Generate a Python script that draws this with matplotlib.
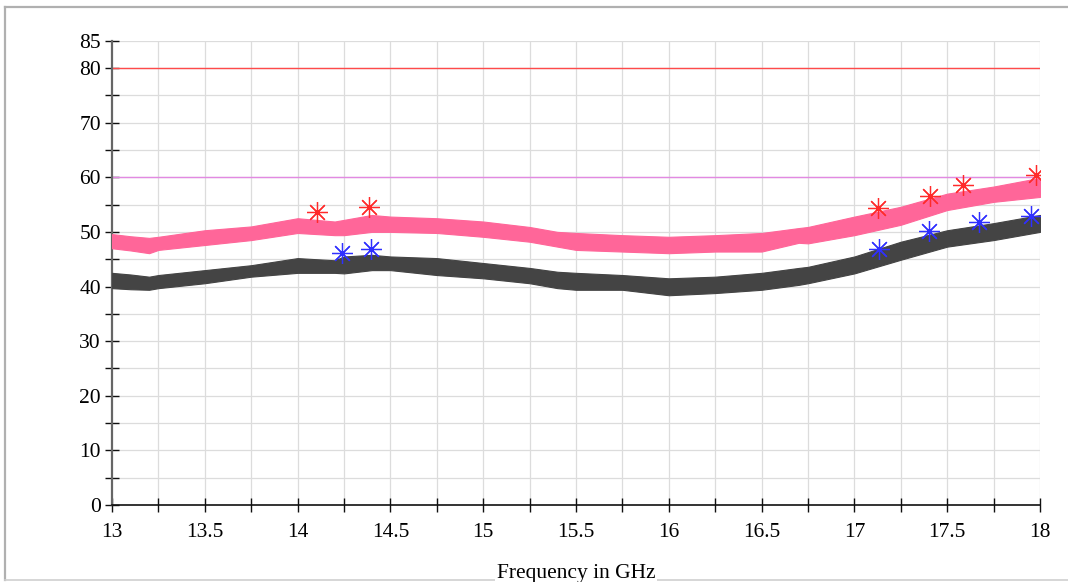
import matplotlib
matplotlib.use("Agg")
import matplotlib.pyplot as plt
from matplotlib.lines import Line2D
from matplotlib.ticker import MultipleLocator, FixedLocator

# ---- data ----
freq_ghz = [13.0, 13.1, 13.2, 13.25, 13.5, 13.75, 14.0, 14.2, 14.25, 14.4, 14.5,
            14.75, 15.0, 15.25, 15.4, 15.5, 15.75, 16.0, 16.25, 16.5, 16.7, 16.75,
            17.0, 17.25, 17.5, 17.75, 18.0]
peak_hi = [49.6, 49.2, 48.9, 49.1, 50.3, 51.0, 52.5, 51.9, 52.2, 53.1, 52.8,
           52.5, 51.9, 50.9, 50.0, 49.8, 49.4, 49.1, 49.4, 49.8, 50.7, 50.9,
           52.8, 54.6, 57.0, 58.3, 59.9]
peak_lo = [47.0, 46.6, 46.1, 46.7, 47.6, 48.5, 49.8, 49.4, 49.4, 50.0, 50.0,
           49.8, 49.1, 48.2, 47.3, 46.7, 46.4, 46.1, 46.4, 46.4, 48.0, 47.9,
           49.4, 51.3, 54.0, 55.5, 56.4]
avg_hi = [42.5, 42.2, 41.8, 42.1, 43.0, 43.9, 45.2, 44.8, 45.5, 45.8, 45.5,
          45.2, 44.3, 43.4, 42.7, 42.5, 42.1, 41.5, 41.8, 42.5, 43.4, 43.6,
          45.5, 48.2, 50.3, 51.6, 53.1]
avg_lo = [39.7, 39.5, 39.4, 39.7, 40.6, 41.8, 42.5, 42.5, 42.4, 43.0, 43.0,
          42.1, 41.5, 40.6, 39.7, 39.4, 39.4, 38.4, 38.8, 39.4, 40.3, 40.6,
          42.4, 44.9, 47.3, 48.5, 50.0]

peak_mark_f = [14.105, 14.385, 17.127, 17.41, 17.585, 17.978]
peak_mark_v = [53.6, 54.6, 54.4, 56.6, 58.6, 60.4]
avg_mark_f = [14.24, 14.396, 17.13, 17.40, 17.67, 17.95]
avg_mark_v = [46.1, 46.9, 46.9, 50.2, 51.8, 52.9]

limit_peak = 80
limit_avg = 60

y_major = [0, 10, 20, 30, 40, 50, 60, 70, 80, 85]
y_minor = [5, 15, 25, 35, 45, 55, 65, 75]
x_labels = ["13", "13.5", "14", "14.5", "15", "15.5", "16", "16.5", "17", "17.5", "18"]

# ---- figure ----
plt.rcParams['font.family'] = ['Liberation Serif', 'DejaVu Serif']
fig = plt.figure(figsize=(10.68, 5.82), dpi=100)
W, H = 1068, 582
ax = fig.add_axes([112 / W, 1 - 505 / H, (1040 - 112) / W, (505 - 40.7) / H])

ax.set_xlim(13, 18)
ax.set_ylim(0, 85)

# grid
for yv in range(5, 86, 5):
    ax.axhline(yv, color='#dcdcdc', lw=0.9, zorder=0)
xg = 13.25
while xg <= 18.001:
    ax.axvline(xg, color='#dcdcdc', lw=0.9, zorder=0)
    xg += 0.25

# limits
ax.axhline(limit_peak, color='#ff4a4a', lw=1.0, zorder=2)
ax.axhline(limit_avg, color='#e28ae2', lw=1.0, zorder=2)

# traces
ax.fill_between(freq_ghz, peak_lo, peak_hi, color='#ff6699', lw=0.8,
                edgecolor='#ff6699', zorder=3)
ax.fill_between(freq_ghz, avg_lo, avg_hi, color='#444444', lw=0.8,
                edgecolor='#444444', zorder=3)

# markers
ax.plot(peak_mark_f, peak_mark_v, ls='none', marker=(8, 2, 0), ms=15,
        mec='#ff2a2a', mew=0.9, zorder=5)
ax.plot(avg_mark_f, avg_mark_v, ls='none', marker=(8, 2, 0), ms=15,
        mec='#2f2fff', mew=0.9, zorder=5)

# spines
for s in ['top', 'right']:
    ax.spines[s].set_visible(False)
ax.spines['left'].set_color('#666666')
ax.spines['left'].set_linewidth(1.6)
ax.spines['bottom'].set_color('#111111')
ax.spines['bottom'].set_linewidth(1.2)

ax.yaxis.set_major_locator(FixedLocator(y_major))
ax.yaxis.set_minor_locator(FixedLocator(y_minor))
ax.set_yticklabels([str(v) for v in y_major])
ax.xaxis.set_major_locator(FixedLocator([13 + 0.5 * i for i in range(11)]))
ax.xaxis.set_minor_locator(MultipleLocator(0.25))
ax.set_xticklabels(x_labels)

ax.tick_params(axis='both', which='both', direction='inout', length=10,
               width=1.0, color='#111111', labelsize=15.5)
ax.tick_params(axis='y', which='both', pad=3)
ax.tick_params(axis='x', which='both', pad=8)

ax.set_xlabel("Frequency in GHz", fontsize=15.5, labelpad=16,
              bbox=dict(facecolor='white', edgecolor='none', pad=1))
ax.xaxis.label.set_zorder(10)

# figure border (top, left, bottom)
bc = '#b0b0b0'
fig.add_artist(Line2D([5 / W, 1], [1 - 6.5 / H, 1 - 6.5 / H], color=bc, lw=1.6,
                      transform=fig.transFigure, zorder=0))
fig.add_artist(Line2D([5 / W, 5 / W], [1 - 6.5 / H, 1 - 580 / H], color=bc, lw=1.6,
                      transform=fig.transFigure, zorder=0))
fig.add_artist(Line2D([5 / W, 1], [1 - 580 / H, 1 - 580 / H], color='#d0d0d0', lw=1.2,
                      transform=fig.transFigure, zorder=0))

fig.savefig("out.png", dpi=100)
